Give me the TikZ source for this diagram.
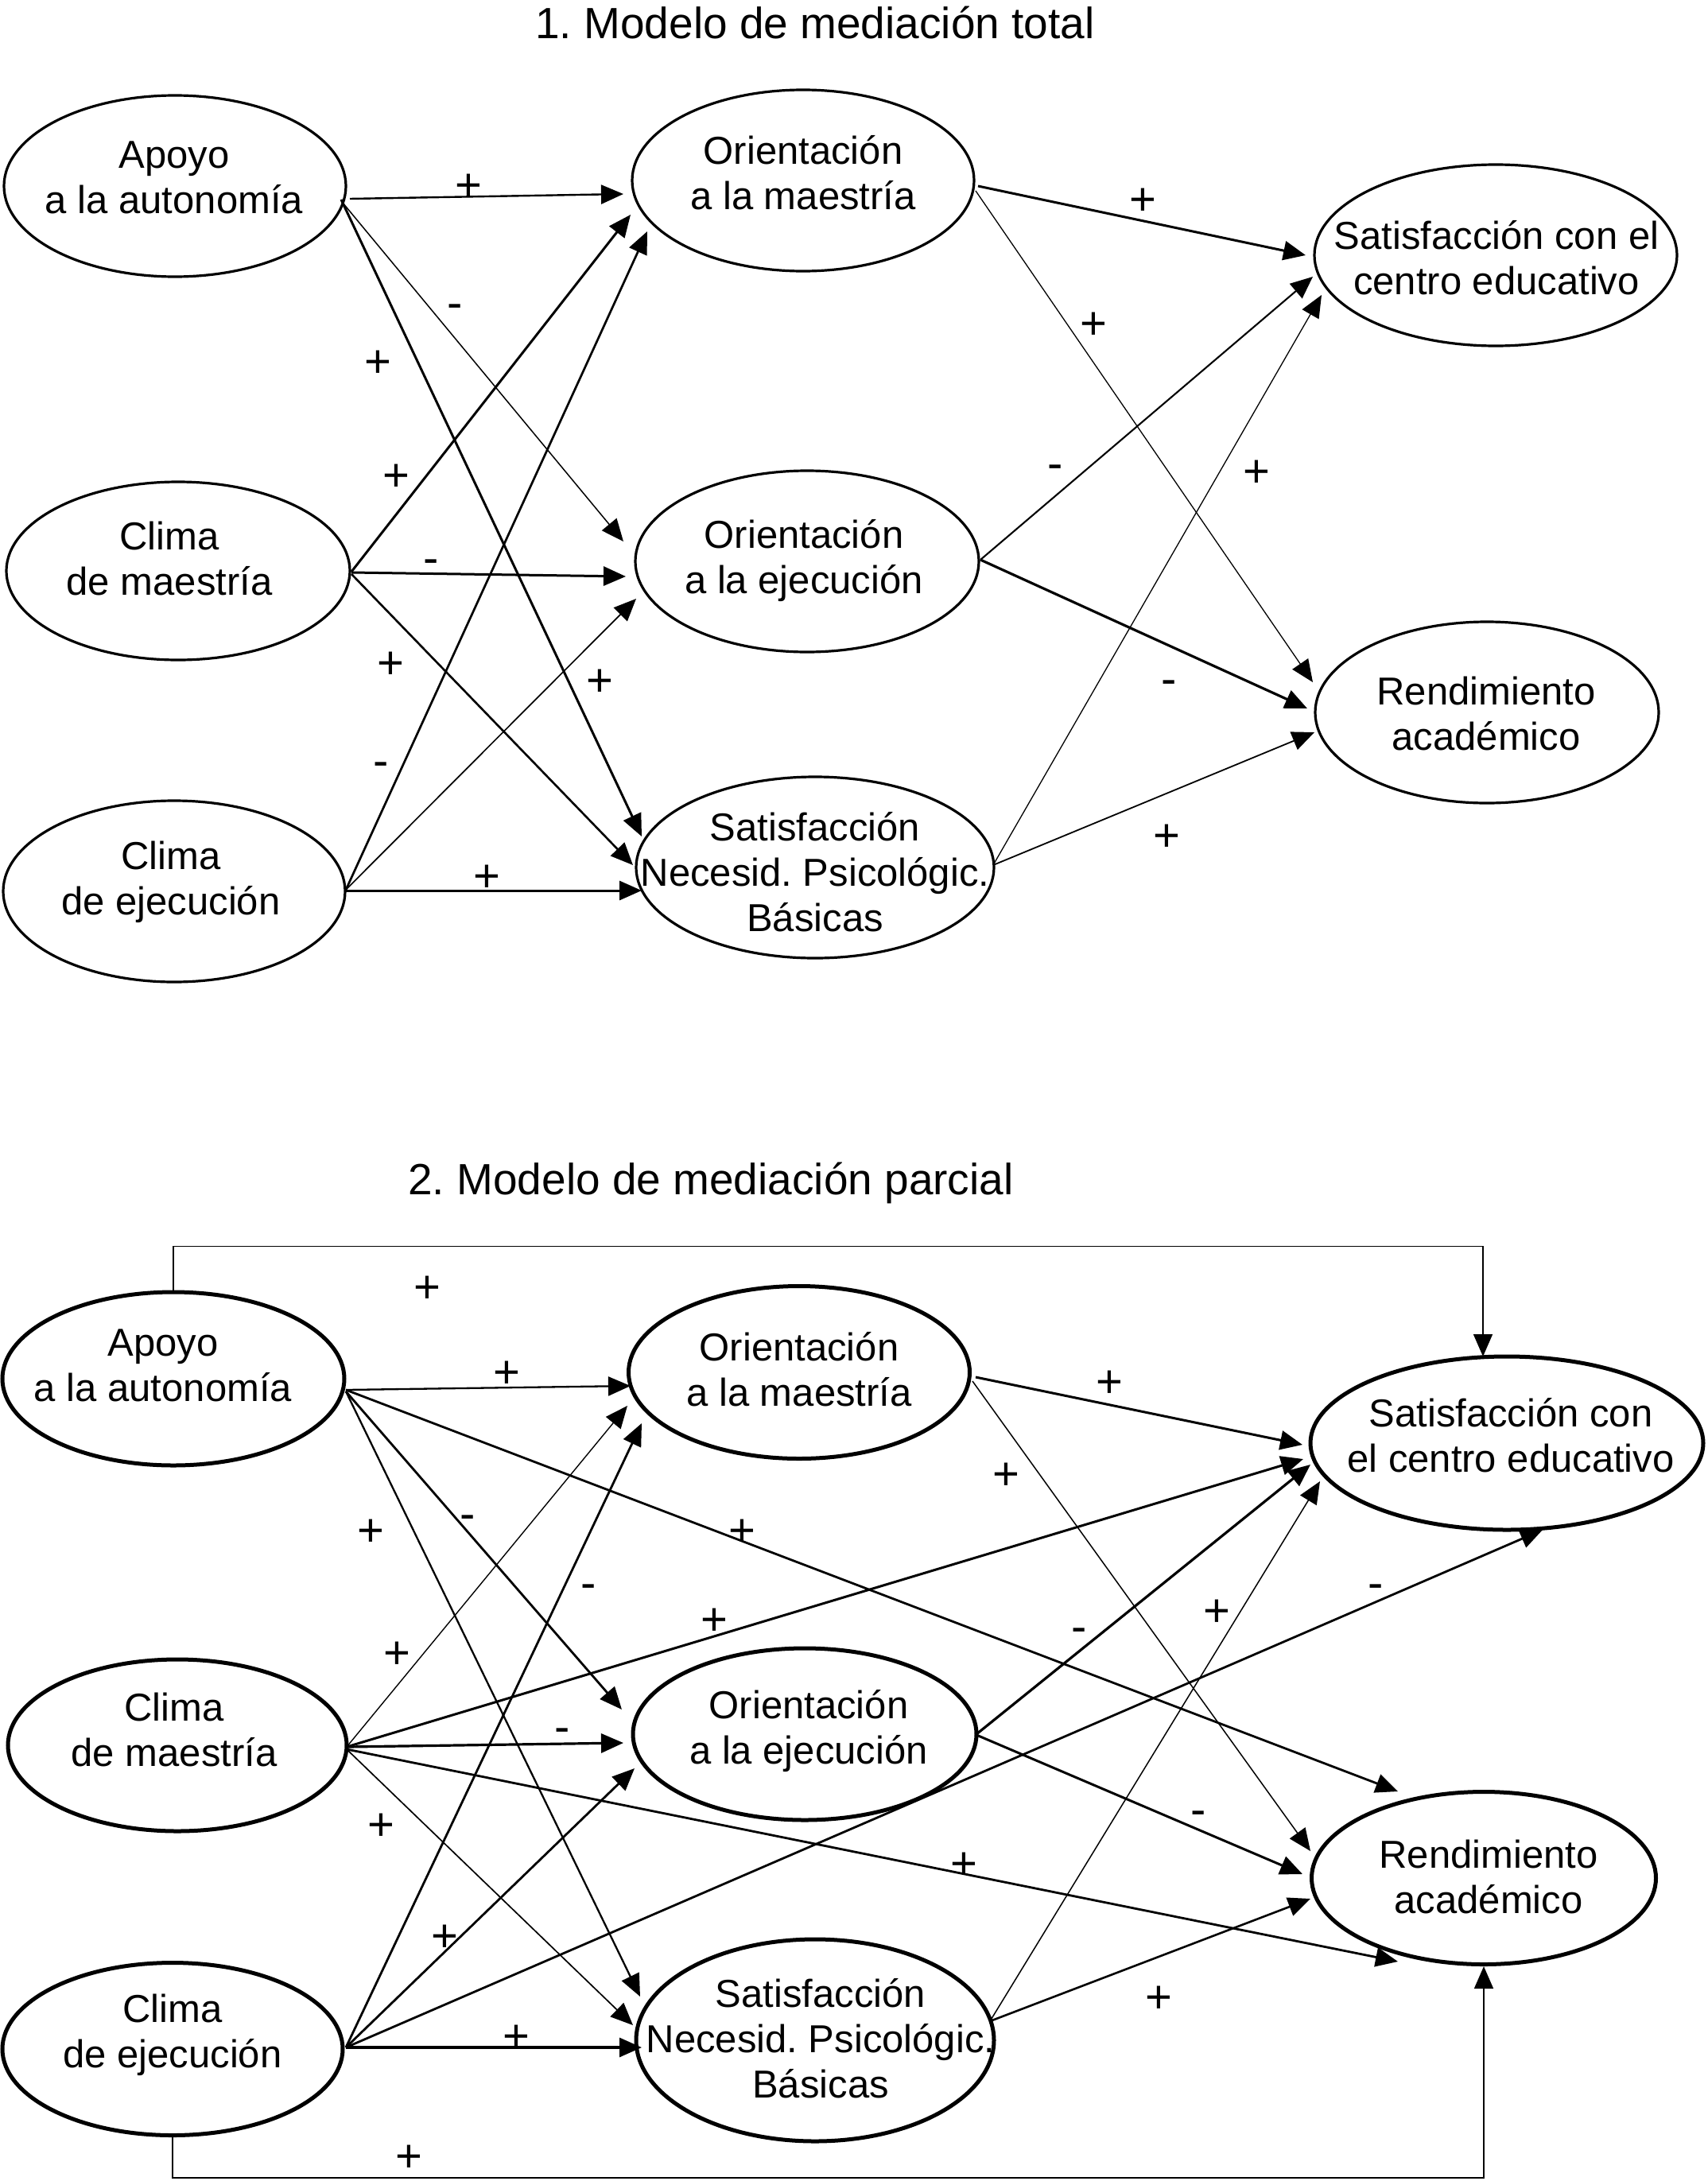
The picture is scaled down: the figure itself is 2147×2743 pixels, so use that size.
\documentclass[tikz,border=0pt]{standalone}
\usepackage{fontspec}
\setmainfont{Liberation Sans}
\usetikzlibrary{arrows.meta,calc,shapes.geometric}
\frenchspacing
\begin{document}
\begin{tikzpicture}[x=1pt,y=-1pt,
 ellA/.style={ellipse,draw,line width=3.2pt,inner sep=0pt},
 ellB/.style={ellipse,draw,line width=5pt,inner sep=0pt},
 txt/.style={font=\fontsize{49}{57}\selectfont,align=center,inner sep=0pt},
 ttl/.style={font=\fontsize{55}{64}\selectfont,anchor=base,inner sep=0pt},
 pl/.style={font=\fontsize{58}{68}\selectfont,anchor=base,inner sep=0pt,yshift=-20.5pt},
 mi/.style={font=\fontsize{58}{68}\selectfont,anchor=base,inner sep=0pt,yshift=-15.6pt},
 arr/.style={-{Triangle[length=28pt,width=24pt]},line width=#1},
 arr/.default=2pt]
\useasboundingbox (0,0) rectangle (2147,2743);

% ---------- titles ----------
\node[ttl] (title1) at (1025,48.5) {1. Modelo de mediación total};
\node[ttl] (title2) at (894,1502) {2. Modelo de mediación parcial};

% ---------- model 1 ellipses ----------
\node[ellA,minimum width=430pt,minimum height=228pt] (a1) at (220,234) {};
\node[ellA,minimum width=430pt,minimum height=228pt] (om1) at (1010,227) {};
\node[ellA,minimum width=456pt,minimum height=228pt] (sc1) at (1881,321) {};
\node[ellA,minimum width=432pt,minimum height=224pt] (cm1) at (224,718) {};
\node[ellA,minimum width=432pt,minimum height=228pt] (oe1) at (1015,706) {};
\node[ellA,minimum width=432pt,minimum height=228pt] (ra1) at (1870,896) {};
\node[ellA,minimum width=430pt,minimum height=228pt] (ce1) at (219,1121) {};
\node[ellA,minimum width=450pt,minimum height=228pt] (sn1) at (1025,1091) {};

\node[txt] (ta1) at (219,229) {\strut Apoyo\\\strut a la autonomía};
\node[txt] (tom1) at (1010,224) {\strut Orientación\\\strut a la maestría};
\node[txt] (tsc1) at (1882,331) {\strut Satisfacción con el\\\strut centro educativo};
\node[txt] (tcm1) at (213,709) {\strut Clima\\\strut de maestría};
\node[txt] (toe1) at (1011,707) {\strut Orientación\\\strut a la ejecución};
\node[txt] (tra1) at (1869,904) {\strut Rendimiento\\\strut académico};
\node[txt] (tce1) at (215,1111) {\strut Clima\\\strut de ejecución};
\node[txt] (tsn1) at (1025,1103) {\strut Satisfacción\\\strut Necesid. Psicológic.\\\strut Básicas};

% ---------- model 1 arrows ----------
\draw[arr=2.4pt] ($(a1)+(220,16)$) -- ($(om1)+(-226,17)$);
\draw[arr=3.0pt] ($(a1)+(209,17)$) -- ($(sn1)+(-218,-39)$);
\draw[arr=1.5pt] ($(a1)+(211,21)$) -- ($(oe1)+(-231,-25)$);
\draw[arr=3.0pt] ($(cm1)+(218,1)$) -- ($(om1)+(-217,43)$);
\draw[arr=2.7pt] ($(ce1)+(216,-2)$) -- ($(om1)+(-196,64)$);
\draw[arr=3.0pt] ($(cm1)+(218,2)$) -- ($(oe1)+(-228,19)$);
\draw[arr=2.6pt] ($(cm1)+(218,4)$) -- ($(sn1)+(-229,-3)$);
\draw[arr=1.7pt] ($(ce1)+(216,-2)$) -- ($(oe1)+(-215,47)$);
\draw[arr=3.0pt] ($(ce1)+(216,-1)$) -- ($(sn1)+(-218,29)$);
\draw[arr=3.0pt] ($(om1)+(220,7)$) -- ($(sc1)+(-239,0)$);
\draw[arr=1.3pt] ($(om1)+(217,13)$) -- ($(ra1)+(-219,-38)$);
\draw[arr=2.1pt] ($(oe1)+(218,-2)$) -- ($(sc1)+(-230,27)$);
\draw[arr=1.3pt] ($(sn1)+(224,-3)$) -- ($(sc1)+(-219,50)$);
\draw[arr=3.2pt] ($(oe1)+(218,-2)$) -- ($(ra1)+(-226,-5)$);
\draw[arr=1.8pt] ($(sn1)+(224,-3)$) -- ($(ra1)+(-217,25)$);

% ---------- model 1 signs ----------
\node[pl] (s101) at (589,232) {+};
\node[pl] (s102) at (475,454) {+};
\node[mi] (s103) at (572,385) {-};
\node[pl] (s104) at (498,597) {+};
\node[mi] (s105) at (542,706) {-};
\node[pl] (s106) at (491,833) {+};
\node[pl] (s107) at (754,855) {+};
\node[mi] (s108) at (479,961) {-};
\node[pl] (s109) at (612,1101) {+};
\node[pl] (s110) at (1437,250) {+};
\node[pl] (s111) at (1375,406) {+};
\node[mi] (s112) at (1327,587) {-};
\node[pl] (s113) at (1580,592) {+};
\node[mi] (s114) at (1470,858) {-};
\node[pl] (s115) at (1467,1050) {+};

% ---------- model 2 ellipses ----------
\node[ellB,minimum width=430pt,minimum height=218pt] (a2) at (218,1734) {};
\node[ellB,minimum width=429pt,minimum height=217pt] (om2) at (1005,1726) {};
\node[ellB,minimum width=494pt,minimum height=218pt] (sc2) at (1895,1815) {};
\node[ellB,minimum width=426pt,minimum height=216pt] (cm2) at (223,2195) {};
\node[ellB,minimum width=432pt,minimum height=216pt] (oe2) at (1012,2181) {};
\node[ellB,minimum width=433pt,minimum height=217pt] (ra2) at (1866,2362) {};
\node[ellB,minimum width=428pt,minimum height=217pt] (ce2) at (217,2577) {};
\node[ellB,minimum width=450pt,minimum height=254pt] (sn2) at (1025,2566) {};

\node[txt] (ta2) at (205,1723) {\strut Apoyo\\\strut a la autonomía};
\node[txt] (tom2) at (1005,1729) {\strut Orientación\\\strut a la maestría};
\node[txt] (tsc2) at (1900,1812) {\strut Satisfacción con\\\strut el centro educativo};
\node[txt] (tcm2) at (219,2182) {\strut Clima\\\strut de maestría};
\node[txt] (toe2) at (1017,2179) {\strut Orientación\\\strut a la ejecución};
\node[txt] (tra2) at (1872,2367) {\strut Rendimiento\\\strut académico};
\node[txt] (tce2) at (217,2561) {\strut Clima\\\strut de ejecución};
\node[txt] (tsn2) at (1032,2570) {\strut Satisfacción\\\strut Necesid. Psicológic.\\\strut Básicas};

% ---------- model 2 arrows ----------
\draw[arr=1.6pt] (a2.north) -- ($(a2.north)+(0,-55)$) -| ($(sc2)+(-30,-109)$);
\draw[arr=1.6pt] (ce2.south) -- ($(ce2.south)+(0,51)$) -| (ra2.south);

\draw[arr=2.3pt] ($(a2)+(217,14)$) -- ($(om2)+(-212,17)$);
\draw[arr=2.8pt] ($(a2)+(217,14)$) -- ($(ra2)+(-108,-109)$);
\draw[arr=2.8pt] ($(a2)+(217,16)$) -- ($(oe2)+(-230,-31)$);
\draw[arr=2.3pt] ($(a2)+(217,16)$) -- ($(sn2)+(-220,-55)$);
\draw[arr=1.4pt] ($(cm2)+(213,2)$) -- ($(om2)+(-216,42)$);
\draw[arr=3.0pt] ($(cm2)+(213,2)$) -- ($(sc2)+(-256,20)$);
\draw[arr=3.2pt] ($(cm2)+(213,2)$) -- ($(oe2)+(-228,11)$);
\draw[arr=2.8pt] ($(cm2)+(213,5)$) -- ($(ra2)+(-108,105)$);
\draw[arr=1.7pt] ($(cm2)+(213,5)$) -- ($(sn2)+(-229,-19)$);
\draw[arr=2.8pt] ($(ce2)+(218,-2)$) -- ($(om2)+(-198,64)$);
\draw[arr=2.8pt] ($(ce2)+(218,-2)$) -- ($(oe2)+(-214,43)$);
\draw[arr=2.8pt] ($(ce2)+(218,-2)$) -- ($(sc2)+(45,109)$);
\draw[arr=3.2pt] ($(ce2)+(218,-2)$) -- ($(sn2)+(-218,9)$);
\draw[arr=3.0pt] ($(om2)+(222,6)$) -- ($(sc2)+(-257,2)$);
\draw[arr=1.5pt] ($(om2)+(218,11)$) -- ($(ra2)+(-218,-34)$);
\draw[arr=3.2pt] ($(oe2)+(216,0)$) -- ($(sc2)+(-247,27)$);
\draw[arr=3.0pt] ($(oe2)+(216,1)$) -- ($(ra2)+(-228,-5)$);
\draw[arr=1.5pt] ($(sn2)+(220,-24)$) -- ($(sc2)+(-235,48)$);
\draw[arr=2.6pt] ($(sn2)+(220,-24)$) -- ($(ra2)+(-218,26)$);

% ---------- model 2 signs ----------
\node[pl] (s201) at (537,1618) {+};
\node[pl] (s202) at (637,1725) {+};
\node[pl] (s203) at (933,1924) {+};
\node[mi] (s204) at (588,1908) {-};
\node[pl] (s205) at (466,1924) {+};
\node[pl] (s206) at (499,2078) {+};
\node[pl] (s207) at (898,2036) {+};
\node[mi] (s208) at (707,2176) {-};
\node[pl] (s209) at (1212,2343) {+};
\node[pl] (s210) at (479,2294) {+};
\node[mi] (s211) at (740,1995) {-};
\node[pl] (s212) at (559,2434) {+};
\node[mi] (s213) at (1730,1995) {-};
\node[pl] (s214) at (649,2560) {+};
\node[pl] (s215) at (1395,1737) {+};
\node[pl] (s216) at (1265,1853) {+};
\node[mi] (s217) at (1357,2050) {-};
\node[mi] (s218) at (1507,2280) {-};
\node[pl] (s219) at (1530,2025) {+};
\node[pl] (s220) at (1457,2511) {+};
\node[pl] (s221) at (514,2711) {+};
\end{tikzpicture}
\end{document}
